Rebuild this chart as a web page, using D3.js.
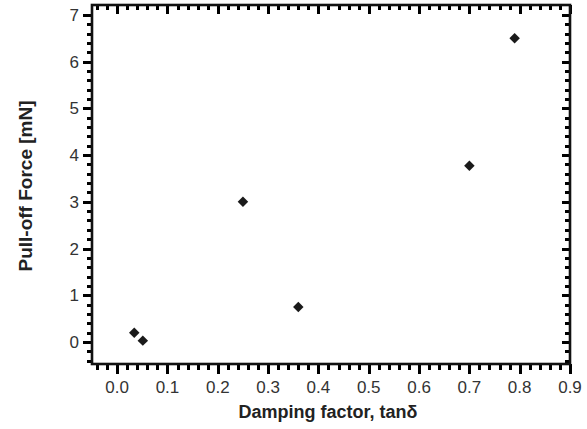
<!DOCTYPE html>
<html>
<head>
<meta charset="utf-8">
<script src="https://cdn.jsdelivr.net/npm/d3@7"></script>
<style>
  body { margin: 0; background: #fff; }
  text { font-family: "Liberation Sans", Arial, sans-serif; }
</style>
</head>
<body>
<div id="chart"></div>
<script>
// data
var dampingFactor = [0.034, 0.051, 0.25, 0.36, 0.70, 0.79];
var pullOffForce = [0.20, 0.03, 3.0, 0.75, 3.77, 6.5];
var xTickValues = [0, 0.1, 0.2, 0.3, 0.4, 0.5, 0.6, 0.7, 0.8, 0.9];
var yTickValues = [0, 1, 2, 3, 4, 5, 6, 7];

var width = 587, height = 429;
var margin = {top: 5, right: 17, bottom: 65, left: 92};

var svg = d3.select("#chart").append("svg")
  .attr("width", width)
  .attr("height", height);

var x = d3.scaleLinear().domain([-0.05, 0.9]).range([margin.left, width - margin.right]);
var y = d3.scaleLinear().domain([-0.47, 7.21]).range([height - margin.bottom, margin.top]);

// minor ticks every 0.02 on x and 0.2 on y
var xMinor = d3.range(-2, 46).filter(function(i) { return i % 5 != 0; }).map(function(i) { return i * 0.02; });
var yMinor = d3.range(-2, 36).filter(function(i) { return i % 5 != 0; }).map(function(i) { return i * 0.2; });

var x0 = x.range()[0], x1 = x.range()[1], y0 = y.range()[0], y1 = y.range()[1];

// all ticks in one path: bottom/left point out, top/right point in
var p = d3.path();
function vTick(px, py, len) { px = Math.round(px) + 0.5; p.moveTo(px, py); p.lineTo(px, py + len); }
function hTick(px, py, len) { py = Math.round(py) + 0.5; p.moveTo(px, py); p.lineTo(px + len, py); }
xTickValues.forEach(function(d) { vTick(x(d), y0, 10); vTick(x(d), y1, 9); });
xMinor.forEach(function(d) { vTick(x(d), y0, 6); vTick(x(d), y1, 5); });
yTickValues.forEach(function(d) { hTick(x0, y(d), -9); hTick(x1, y(d), -8); });
yMinor.forEach(function(d) { hTick(x0, y(d), -5); hTick(x1, y(d), -5); });

svg.append("path")
  .attr("d", p.toString())
  .attr("fill", "none")
  .attr("stroke", "#000")
  .attr("stroke-width", 3);

// frame
svg.append("rect")
  .attr("x", x0).attr("y", y1)
  .attr("width", x1 - x0).attr("height", y0 - y1)
  .attr("fill", "none").attr("stroke", "#111").attr("stroke-width", 2.6);

// tick labels
svg.append("g").selectAll("text").data(xTickValues).enter().append("text")
  .attr("x", function(d) { return x(d); })
  .attr("y", y0 + 29)
  .attr("text-anchor", "middle")
  .attr("font-size", 17).attr("fill", "#333")
  .text(function(d) { return d3.format(".1f")(d); });

svg.append("g").selectAll("text").data(yTickValues).enter().append("text")
  .attr("x", x0 - 13)
  .attr("y", function(d) { return y(d) + 6; })
  .attr("text-anchor", "end")
  .attr("font-size", 17).attr("fill", "#333")
  .text(function(d) { return d; });

// axis titles
svg.append("text")
  .attr("x", 328).attr("y", 418)
  .attr("text-anchor", "middle")
  .attr("font-size", 18).attr("font-weight", "bold").attr("fill", "#222")
  .text("Damping factor, tan\u03b4");

svg.append("text")
  .attr("transform", "translate(32,186) rotate(-90)")
  .attr("text-anchor", "middle")
  .attr("font-size", 19).attr("font-weight", "bold").attr("fill", "#222")
  .text("Pull-off Force [mN]");

// points
var diamond = d3.symbol().type(d3.symbolSquare).size(55);
svg.append("g").selectAll("path").data(dampingFactor).enter().append("path")
  .attr("d", diamond)
  .attr("transform", function(d, i) { return "translate(" + x(d) + "," + y(pullOffForce[i]) + ") rotate(45)"; })
  .attr("fill", "#1a1a1a");
</script>
</body>
</html>
